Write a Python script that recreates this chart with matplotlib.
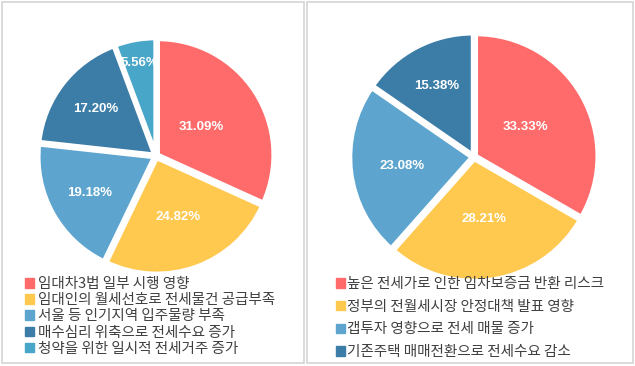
import numpy as np
import matplotlib.pyplot as plt
from matplotlib.patches import Rectangle, Patch

plt.rcParams['font.family'] = ['Noto Sans CJK KR', 'DejaVu Sans']

# 왼쪽 차트
left_labels = ['임대차3법 일부 시행 영향', '임대인의 월세선호로 전세물건 공급부족',
               '서울 등 인기지역 입주물량 부족', '매수심리 위축으로 전세수요 증가',
               '청약을 위한 일시적 전세거주 증가']
left_values = [31.09, 24.82, 19.18, 17.20, 5.56]
left_colors = ['#FF6B6B', '#FFC84F', '#5DA5CE', '#3C7DA8', '#48A6C8']
left_dist = [0.45, 0.54, 0.64, 0.64, 0.8]

# 오른쪽 차트
right_labels = ['높은 전세가로 인한 임차보증금 반환 리스크', '정부의 전월세시장 안정대책 발표 영향',
                '갭투자 영향으로 전세 매물 증가', '기존주택 매매전환으로 전세수요 감소']
right_values = [33.33, 28.21, 23.08, 15.38]
right_colors = ['#FF6B6B', '#FFC84F', '#5DA5CE', '#3C7DA8']
right_dist = [0.47, 0.5, 0.58, 0.64]

W, H = 635, 366
fig = plt.figure(figsize=(W / 100, H / 100), dpi=100)
ax = fig.add_axes([0, 0, 1, 1])
ax.axis('off')

# panel borders
ax.add_patch(Rectangle((1.5, H - 363), 302, 361.5, fill=False, ec='#D4D4D4', lw=1.2))
ax.add_patch(Rectangle((307, H - 363), 326, 361.5, fill=False, ec='#D4D4D4', lw=1.2))


def draw_pie(values, colors, dists, center, r):
    wedges, _ = ax.pie(values, colors=colors, startangle=90, counterclock=False,
                       center=center, radius=r, explode=[2] * len(values),
                       wedgeprops=dict(edgecolor='white', linewidth=3.3))
    for w, v, d in zip(wedges, values, dists):
        a = np.deg2rad((w.theta1 + w.theta2) / 2)
        x = w.center[0] + d * r * np.cos(a)
        y = w.center[1] + d * r * np.sin(a)
        ax.text(x, y, '%.2f%%' % v, ha='center', va='center', color='white',
                fontsize=9.5, fontweight='bold', family=['Liberation Sans', 'DejaVu Sans'])


draw_pie(left_values, left_colors, left_dist, (156, H - 156), 116)
draw_pie(right_values, right_colors, right_dist, (474, H - 157), 122)
ax.set_xlim(0, W)
ax.set_ylim(0, H)
ax.set_aspect('equal')

h1 = [Patch(color=c) for c in left_colors]
leg1 = ax.legend(h1, left_labels, loc='upper left', bbox_to_anchor=(25 / W, 1 - 277 / H),
                 frameon=False, fontsize=10.5, handlelength=0.65, handleheight=0.65,
                 handletextpad=0.25, labelspacing=0.15, borderpad=0, borderaxespad=0,
                 labelcolor='#404040')
ax.add_artist(leg1)
h2 = [Patch(color=c) for c in right_colors]
ax.legend(h2, right_labels, loc='upper left', bbox_to_anchor=(336 / W, 1 - 277 / H),
          frameon=False, fontsize=10.5, handlelength=0.65, handleheight=0.65,
          handletextpad=0.1, labelspacing=0.6, borderpad=0, borderaxespad=0,
          labelcolor='#404040')

fig.savefig('out.png', dpi=100)
